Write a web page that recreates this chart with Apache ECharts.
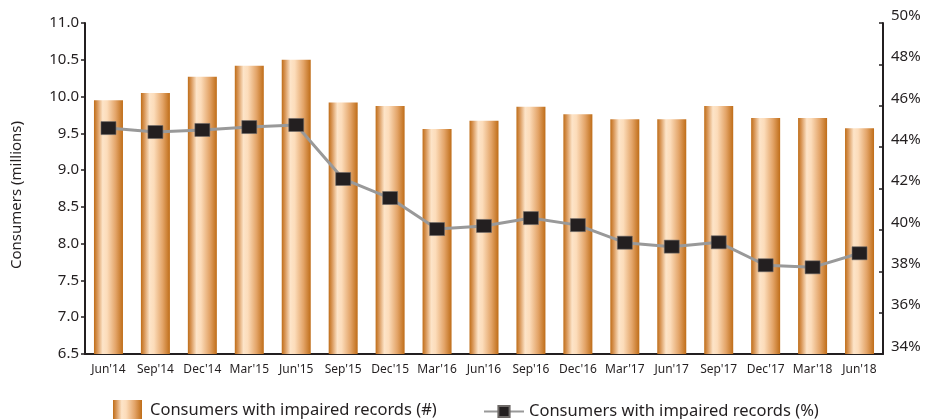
<!DOCTYPE html>
<html>
<head>
<meta charset="utf-8">
<script src="https://cdn.jsdelivr.net/npm/echarts@6/dist/echarts.min.js"></script>
<style>
html,body{margin:0;padding:0;background:#fff;}
#chart{width:927px;height:419px;}
</style>
</head>
<body>
<div id="chart"></div>
<script>
var categories = ["Jun'14","Sep'14","Dec'14","Mar'15","Jun'15","Sep'15","Dec'15","Mar'16","Jun'16","Sep'16","Dec'16","Mar'17","Jun'17","Sep'17","Dec'17","Mar'18","Jun'18"];
var consumersMillions = [9.95,10.05,10.27,10.42,10.50,9.92,9.87,9.56,9.67,9.86,9.76,9.69,9.69,9.87,9.71,9.71,9.57];
var impairedPct = [44.92,44.73,44.83,44.97,45.07,42.46,41.54,40.04,40.19,40.57,40.23,39.38,39.19,39.40,38.29,38.19,38.87];
var leftTicks = {min:6.5, max:11.0, step:0.5};
var rightTicks = {min:34, max:50, step:2};
var barName = 'Consumers with impaired records (#)';
var lineName = 'Consumers with impaired records (%)';
var yAxisTitle = 'Consumers (millions)';

var FONT = '"Noto Sans", sans-serif';
var INK = '#231f20';
var barGrad = new echarts.graphic.LinearGradient(0,0,1,0,[
  {offset:0, color:'#bf6d18'},
  {offset:0.12, color:'#d9985a'},
  {offset:0.3, color:'#fde4c8'},
  {offset:0.45, color:'#fcdcba'},
  {offset:0.75, color:'#e3a468'},
  {offset:1, color:'#bf6d18'}
]);

var chart = echarts.init(document.getElementById('chart'));
chart.setOption({
  animation:false,
  textStyle:{fontFamily:FONT},
  grid:{left:85, right:44, top:23, bottom:65, containLabel:false},
  graphic:[{
    type:'text', x:17, y:195, rotation:Math.PI/2,
    style:{text:yAxisTitle, fontSize:15, fill:INK, fontFamily:FONT, align:'center', verticalAlign:'middle'}
  }],
  legend:[{
    left:113, top:400, padding:0, itemWidth:29, itemHeight:20, icon:'rect',
    data:[barName],
    textStyle:{fontSize:16.5, color:INK, fontFamily:FONT, padding:[0,0,0,3]}
  },{
    left:483, top:403, padding:0, itemWidth:40, itemHeight:14,
    data:[lineName],
    textStyle:{fontSize:16.5, color:INK, fontFamily:FONT}
  }],
  xAxis:{
    type:'category', data:categories,
    axisLine:{lineStyle:{color:INK, width:2}},
    axisTick:{show:false},
    axisLabel:{interval:0, fontSize:12, color:INK, margin:10, fontFamily:FONT}
  },
  yAxis:[{
    type:'value', min:leftTicks.min, max:leftTicks.max, interval:leftTicks.step,
    axisLine:{show:true, lineStyle:{color:INK, width:2}},
    axisTick:{show:true, length:4, lineStyle:{color:INK, width:1.5}},
    splitLine:{show:false},
    axisLabel:{fontSize:15, color:INK, margin:6, fontFamily:FONT,
      formatter:function(v){return v.toFixed(1);}}
  },{
    type:'value', min:rightTicks.min, max:rightTicks.max, interval:rightTicks.step,
    position:'right',
    axisLine:{show:true, lineStyle:{color:INK, width:2}},
    axisTick:{show:true, inside:true, length:4, lineStyle:{color:INK, width:1.5}},
    splitLine:{show:false},
    axisLabel:{fontSize:15, color:INK, margin:8, fontFamily:FONT, verticalAlign:'bottom',
      formatter:function(v){return v+'%';}}
  }],
  series:[{
    name:barName, type:'bar', data:consumersMillions, barWidth:29,
    itemStyle:{color:barGrad}
  },{
    name:lineName, type:'line', yAxisIndex:1, data:impairedPct,
    symbol:'rect', symbolSize:[15,13],
    itemStyle:{color:INK, borderColor:'#6e6a68', borderWidth:0.6},
    lineStyle:{color:'#999999', width:3}
  }]
});
</script>
</body>
</html>
